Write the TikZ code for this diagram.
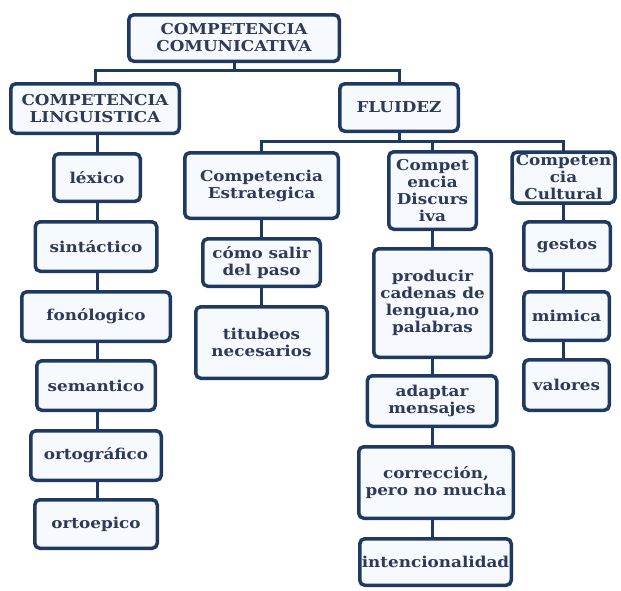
\documentclass[tikz,border=0pt]{standalone}
\usepackage{fontspec}
\setmainfont{DejaVu Serif}[FakeStretch=1.12]
\usetikzlibrary{shadows}
\definecolor{bordc}{HTML}{1F3960}
\definecolor{fillc}{HTML}{F6F9FD}
\definecolor{textc}{HTML}{2E3A58}
\newcommand{\boxfont}{\fontsize{15}{17}\selectfont\bfseries}
\tikzset{
  box/.style={draw=bordc, line width=3.5pt, rounded corners=5pt, fill=fillc,
    text=textc, align=center, inner sep=0.5pt, font=\boxfont,
    drop shadow={shadow xshift=1.2pt, shadow yshift=-1.5pt, fill=bordc, opacity=0.25}},
  link/.style={draw=bordc, line width=3pt},
}
\begin{document}
\begin{tikzpicture}[x=1pt,y=1pt]
\useasboundingbox (0,0) rectangle (621,-590);
% nodes
\node[box, minimum width=210.5pt, minimum height=46.5pt] (top) at (234,-38) {COMPETENCIA\\COMUNICATIVA};
\node[box, minimum width=168.5pt, minimum height=49.5pt] (ling) at (95,-108.5) {COMPETENCIA\\LINGUISTICA};
\node[box, minimum width=118.5pt, minimum height=47.5pt] (flu) at (399,-107.5) {FLUIDEZ};
\node[box, minimum width=153.5pt, minimum height=65.5pt] (est) at (261.5,-185.5) {Competencia\\Estrategica};
\node[box, minimum width=87.5pt, minimum height=77.5pt, text width=85pt] (dis) at (432.5,-190.5) {Compet\\encia\\Discurs\\iva};
\node[box, minimum width=99.5pt, minimum height=47.5pt, draw=none] (cul) at (563.5,-177.5) {Competen\\cia\\Cultural};
\draw[bordc, line width=3.5pt, rounded corners=5pt] (cul.south west) rectangle (cul.north east);
\node[box, minimum width=86.5pt, minimum height=47.5pt] (lex) at (97,-177.5) {léxico};
\node[box, minimum width=121.5pt, minimum height=49.5pt] (sin) at (96,-246.5) {sintáctico};
\node[box, minimum width=148.5pt, minimum height=49.5pt] (fon) at (96,-316.5) {fonólogico};
\node[box, minimum width=118.5pt, minimum height=49.5pt] (sem) at (96,-385.5) {semantico};
\node[box, minimum width=130.5pt, minimum height=49.5pt] (ort) at (96,-455.5) {ortográfico};
\node[box, minimum width=122.5pt, minimum height=48.5pt] (oep) at (96,-524) {ortoepico};
\node[box, minimum width=117.5pt, minimum height=47.5pt] (como) at (261.5,-262.5) {cómo salir\\del paso};
\node[box, minimum width=131.5pt, minimum height=71.5pt] (tit) at (261.5,-342.5) {titubeos\\necesarios};
\node[box, minimum width=117.5pt, minimum height=108.5pt] (prod) at (432.5,-303) {producir\\cadenas de\\lengua,no\\palabras};
\node[box, minimum width=129.5pt, minimum height=50.5pt] (adap) at (432,-401) {adaptar\\mensajes};
\node[box, minimum width=154.5pt, minimum height=71.5pt] (corr) at (436,-482.5) {corrección,\\pero no mucha};
\node[box, minimum width=151.5pt, minimum height=46.5pt] (inte) at (435.5,-562) {intencionalidad};
\node[box, minimum width=86.5pt, minimum height=48.5pt] (ges) at (567,-246) {gestos};
\node[box, minimum width=85.5pt, minimum height=48.5pt] (mim) at (566.5,-316) {mimica};
\node[box, minimum width=85.5pt, minimum height=50.5pt] (val) at (566.5,-385) {valores};
% connectors
\draw[link] (top.south) -- ++(0,-7.5) coordinate (t1) -| (ling.north);
\draw[link] (t1) -| (flu.north);
\draw[link] (flu.south) -- ++(0,-8) coordinate (f1) -| (est.north);
\draw[link] (f1) -| (dis.north);
\draw[link] (f1) -| (cul.north);
\draw[link] (lex.north |- ling.south) -- (lex.north);
\draw[link] (lex.south) -- (lex.south |- sin.north);
\draw[link] (lex.south |- sin.south) -- (lex.south |- fon.north);
\draw[link] (lex.south |- fon.south) -- (lex.south |- sem.north);
\draw[link] (lex.south |- sem.south) -- (lex.south |- ort.north);
\draw[link] (lex.south |- ort.south) -- (lex.south |- oep.north);
\draw[link] (est.south) -- (est.south |- como.north);
\draw[link] (est.south |- como.south) -- (est.south |- tit.north);
\draw[link] (dis.south) -- (dis.south |- prod.north);
\draw[link] (dis.south |- prod.south) -- (dis.south |- adap.north);
\draw[link] (dis.south |- adap.south) -- (dis.south |- corr.north);
\draw[link] (dis.south |- corr.south) -- (dis.south |- inte.north);
\draw[link] (cul.south) -- (cul.south |- ges.north);
\draw[link] (cul.south |- ges.south) -- (cul.south |- mim.north);
\draw[link] (cul.south |- mim.south) -- (cul.south |- val.north);
\end{tikzpicture}
\end{document}
